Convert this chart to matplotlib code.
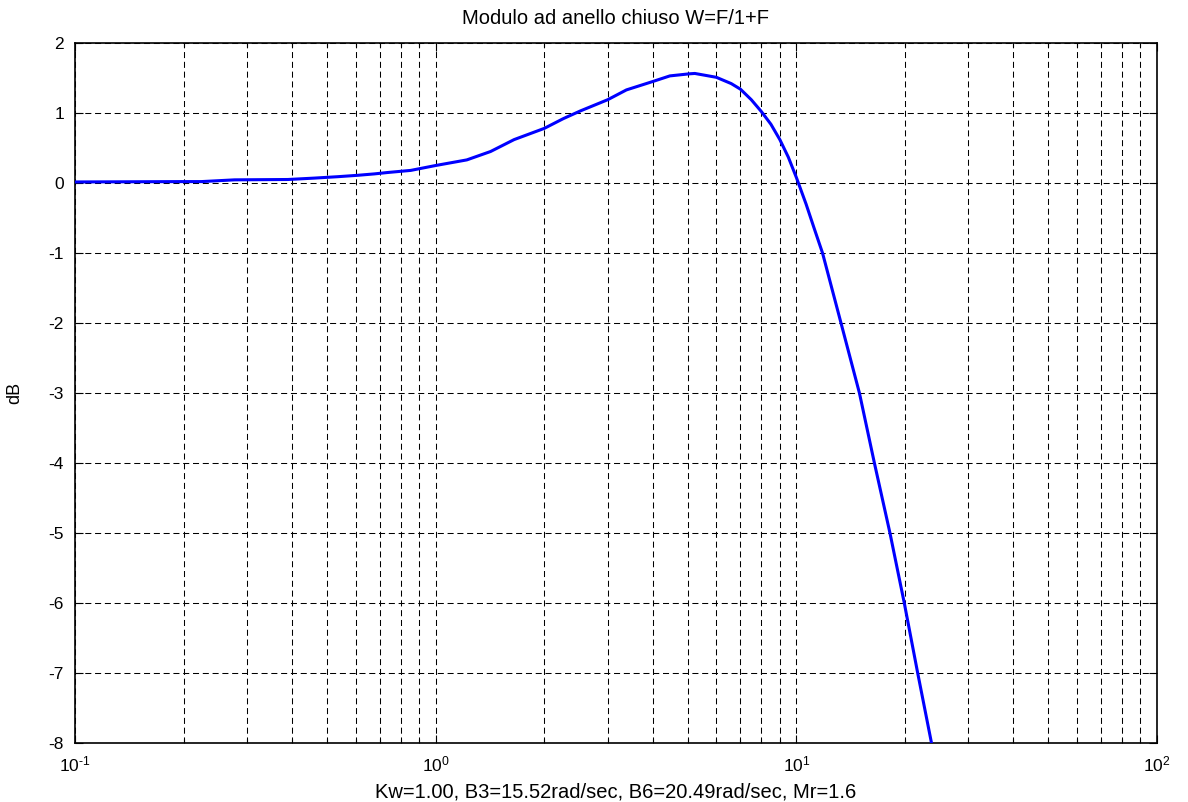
import matplotlib
matplotlib.use("Agg")
import matplotlib.pyplot as plt
from matplotlib.ticker import LogLocator, NullFormatter, FixedLocator

plt.rcParams['font.family'] = ['Liberation Sans', 'DejaVu Sans']
plt.rcParams['mathtext.fontset'] = 'custom'
plt.rcParams['mathtext.rm'] = 'Liberation Sans'
plt.rcParams['mathtext.it'] = 'Liberation Sans'
plt.rcParams['mathtext.default'] = 'regular'

# data (rad/sec, dB)
freq = [0.1, 0.2, 0.224, 0.277, 0.389, 0.461, 0.535, 0.608, 0.676, 0.736,
        0.853, 1.0, 1.22, 1.42, 1.65, 2.0, 2.26, 2.52, 3.0, 3.38, 4.0, 4.46,
        5.06, 5.23, 6.0, 6.6, 7.0, 7.5, 8.0, 8.5, 9.0, 9.5, 10.0, 10.64,
        11.21, 11.82, 13.3, 14.96, 16.46, 18.18, 19.92, 21.7, 23.7]
mag_db = [0.015, 0.02, 0.02, 0.045, 0.05, 0.07, 0.09, 0.11, 0.13, 0.15,
          0.18, 0.25, 0.33, 0.45, 0.62, 0.78, 0.92, 1.03, 1.19, 1.33, 1.45, 1.53,
          1.56, 1.565, 1.51, 1.42, 1.34, 1.19, 1.02, 0.84, 0.62, 0.37, 0.08, -0.30,
          -0.65, -1.0, -2.0, -3.0, -4.0, -5.0, -6.0, -7.0, -8.0]
y_ticks = [2, 1, 0, -1, -2, -3, -4, -5, -6, -7, -8]
x_tick_labels = ['$10^{\u2010 1}$', '$10^{0}$', '$10^{1}$', '$10^{2}$']
title_text = "Modulo ad anello chiuso W=F/1+F"
xlabel_text = "Kw=1.00, B3=15.52rad/sec, B6=20.49rad/sec, Mr=1.6"
ylabel_text = "dB"

fig = plt.figure(figsize=(11.88, 8.02), dpi=100)
ax = fig.add_axes([75/1188, 59/802, 1082/1188, 700/802])

ax.plot(freq, mag_db, color=(0, 0, 1), linewidth=2.2, zorder=3)
ax.set_xscale('log')
ax.set_xlim(0.1, 100)
ax.set_ylim(-8, 2)
ax.set_yticks(y_ticks)
ax.set_yticklabels([str(t) for t in y_ticks])
ax.xaxis.set_major_locator(FixedLocator([0.1, 1, 10, 100]))
ax.set_xticklabels(x_tick_labels)
ax.xaxis.set_minor_locator(LogLocator(base=10, subs=range(2, 10), numticks=20))
ax.xaxis.set_minor_formatter(NullFormatter())

grid_kw = dict(color='black', linewidth=0.75, linestyle=(0, (5.8, 3.6)))
ax.grid(True, which='major', axis='both', **grid_kw)
ax.grid(True, which='minor', axis='x', **grid_kw)
ax.set_axisbelow(True)

ax.tick_params(which='both', direction='in', top=True, right=True,
               labelsize=12.5, pad=8, width=0.8)
ax.tick_params(which='major', length=6)
ax.tick_params(which='minor', length=3)
for s in ax.spines.values():
    s.set_linewidth(1.2)
    s.set_color('black')

ax.set_title(title_text, fontsize=14.5, pad=14)
ax.set_xlabel(xlabel_text, fontsize=14.5, labelpad=6)
ax.set_ylabel(ylabel_text, fontsize=13, labelpad=18)

fig.savefig('out.png', dpi=100)
